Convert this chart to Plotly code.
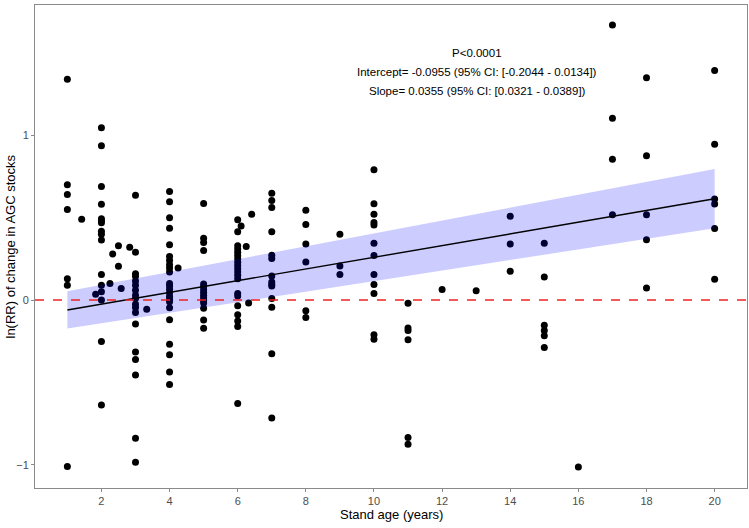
import plotly.graph_objects as go

# ---- data ----
age_1 = [1] * 7
lnrr_1 = [1.34, 0.70, 0.64, 0.55, 0.13, 0.09, -1.01]
age_2 = [1.42, 1.83] + [2] * 16 + [2.25, 2.33, 2.5, 2.5, 2.58, 2.83]
lnrr_2 = [0.49, 0.035,
          1.045, 0.936, 0.689, 0.582, 0.493, 0.481, 0.469, 0.417, 0.400, 0.364, 0.155, 0.090, 0.050, 0.0, -0.252, -0.636,
          0.10, 0.28, 0.33, 0.205, 0.07, 0.32]
age_3 = [3] * 18 + [3.33]
lnrr_3 = [0.636, 0.29, 0.16, 0.145, 0.115, 0.09, 0.06, 0.03, 0.01, -0.025, -0.045, -0.075, -0.145, -0.315, -0.36,
          -0.455, -0.838, -0.984, -0.056]
age_4 = [4] * 23 + [4.25]
lnrr_4 = [0.658, 0.597, 0.50, 0.435, 0.336, 0.265, 0.24, 0.215, 0.195, 0.17, 0.10, 0.085, 0.065, 0.045, 0.022, 0.005,
          -0.01, -0.046, -0.119, -0.268, -0.332, -0.437, -0.512, 0.195]
age_5 = [5] * 15
lnrr_5 = [0.586, 0.375, 0.35, 0.30, 0.097, 0.083, 0.062, 0.046, 0.03, 0.014, -0.002, -0.018, -0.05, -0.121, -0.171]
age_6 = [6] * 20 + [6.1, 6.25, 6.32, 6.41]
lnrr_6 = [0.487, 0.415, 0.33, 0.31, 0.29, 0.27, 0.25, 0.23, 0.21, 0.19, 0.17, 0.15, 0.13, 0.04, 0.025, -0.034, -0.089,
          -0.127, -0.161, -0.628, 0.45, 0.325, -0.018, 0.52]
age_7 = [7] * 14
lnrr_7 = [0.648, 0.604, 0.562, 0.415, 0.272, 0.252, 0.146, 0.11, 0.095, 0.085, 0.01, -0.044, -0.326, -0.715]
age_8_11 = [8] * 6 + [9] * 3 + [10] * 12 + [11] * 6
lnrr_8_11 = [0.545, 0.459, 0.340, 0.231, -0.064, -0.105,
             0.40, 0.207, 0.155,
             0.79, 0.585, 0.52, 0.47, 0.455, 0.345, 0.27, 0.155, 0.095, 0.04, -0.21, -0.237,
             -0.02, -0.17, -0.185, -0.24, -0.834, -0.874]
age_12_20 = [12, 13] + [14] * 3 + [15] * 6 + [16] + [17] * 4 + [18] * 5 + [20] * 6
lnrr_12_20 = [0.064, 0.056,
              0.509, 0.340, 0.175,
              0.345, 0.14, -0.153, -0.184, -0.216, -0.288,
              -1.013,
              1.669, 1.103, 0.855, 0.517,
              1.348, 0.875, 0.517, 0.366, 0.074,
              1.393, 0.946, 0.613, 0.583, 0.434, 0.126]

stand_age = age_1 + age_2 + age_3 + age_4 + age_5 + age_6 + age_7 + age_8_11 + age_12_20
ln_rr = lnrr_1 + lnrr_2 + lnrr_3 + lnrr_4 + lnrr_5 + lnrr_6 + lnrr_7 + lnrr_8_11 + lnrr_12_20

intercept = -0.0955
slope = 0.0355
fit_x = [1, 20]
band_x = [1, 5, 10, 15, 20]
band_hi = [0.053, 0.209, 0.405, 0.600, 0.795]
band_lo = [-0.173, -0.045, 0.115, 0.275, 0.435]

ann_lines = ["P<0.0001",
             "Intercept= -0.0955 (95% CI: [-0.2044 - 0.0134])",
             "Slope= 0.0355 (95% CI: [0.0321 - 0.0389])"]
ann_y = [1.50, 1.385, 1.27]
ann_x = 13.03

x_title = "Stand age (years)"
y_title = "ln(RR) of change in AGC stocks"

FONT = "Liberation Sans, Arial, Helvetica, sans-serif"

fig = go.Figure()
fig.add_trace(go.Scatter(x=stand_age, y=ln_rr, mode="markers",
                         marker=dict(color="black", size=7), hoverinfo="skip"))
fig.add_trace(go.Scatter(x=band_x, y=band_lo, mode="lines", line=dict(width=0),
                         hoverinfo="skip"))
fig.add_trace(go.Scatter(x=band_x, y=band_hi, mode="lines", line=dict(width=0),
                         fill="tonexty", fillcolor="rgba(0,0,255,0.2)", hoverinfo="skip"))
fig.add_trace(go.Scatter(x=fit_x, y=[intercept + slope * v for v in fit_x], mode="lines",
                         line=dict(color="black", width=1.4), hoverinfo="skip"))

fig.add_shape(type="line", xref="paper", yref="y", x0=0, x1=1, y0=0, y1=0,
              line=dict(color="#EE2222", width=1.5, dash="dash"))

for txt, yy in zip(ann_lines, ann_y):
    fig.add_annotation(x=ann_x, y=yy, text=txt, showarrow=False, xanchor="center", yanchor="middle",
                       font=dict(family=FONT, size=11.5, color="black"))

# axis titles as annotations for exact placement
fig.add_annotation(x=0.5, y=0, xref="paper", yref="paper", yanchor="middle", xanchor="center",
                   yshift=-26, text=x_title, showarrow=False,
                   font=dict(family=FONT, size=13, color="black"))
fig.add_annotation(x=0, y=0.5, xref="paper", yref="paper", xanchor="center", yanchor="middle",
                   xshift=-25, text=y_title, showarrow=False, textangle=-90,
                   font=dict(family=FONT, size=13, color="black"))

axis_common = dict(showgrid=False, zeroline=False, showline=True, linecolor="#8a8a8a", linewidth=1,
                   mirror=True, ticks="outside", ticklen=3, tickcolor="#8a8a8a", automargin=False,
                   tickfont=dict(family=FONT, size=11, color="#4D4D4D"))

fig.update_xaxes(range=[0.05, 20.95], tickvals=[2, 4, 6, 8, 10, 12, 14, 16, 18, 20], **axis_common)
fig.update_yaxes(range=[-1.14, 1.79], tickvals=[-1, 0, 1], **axis_common)

fig.update_layout(width=749, height=528, showlegend=False, plot_bgcolor="white", paper_bgcolor="white",
                  margin=dict(l=35, r=2, t=5, b=40))

fig.write_html("out.html", config={"displayModeBar": False},
               post_script="document.body.style.margin='0px';")
